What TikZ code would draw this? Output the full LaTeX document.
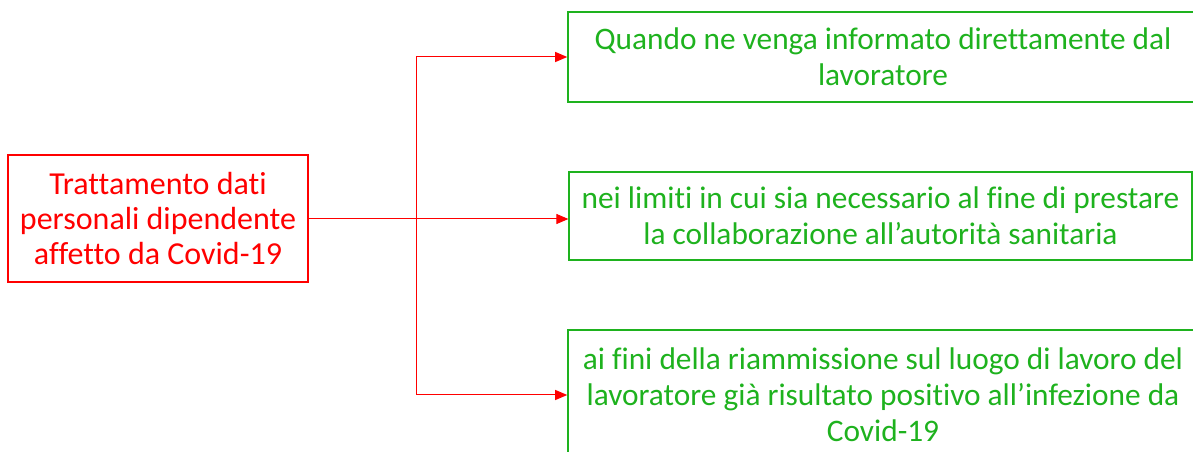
\documentclass[tikz,border=0pt]{standalone}
\usepackage{fontspec}
\setmainfont[Ligatures=NoCommon]{Carlito}
\usetikzlibrary{arrows.meta}
\definecolor{boxgreen}{RGB}{30,178,30}
\begin{document}
\begin{tikzpicture}[x=0.75pt,y=-0.75pt,
	root_node/.style={draw=red,text=red,line width=1.2pt,minimum width=225pt,minimum height=95pt,align=center,inner sep=0pt,font=\fontsize{24}{26}\selectfont},
	case_node/.style={draw=boxgreen,text=boxgreen,line width=1.2pt,align=center,inner sep=0pt},
	link/.style={draw=red,line width=0.75pt,-{Triangle[length=9pt,width=7.5pt]}}]
	\useasboundingbox (0,0) rectangle (1193,452);
	\clip (0,0) rectangle (1193,452);
	\fontsize{23.5}{27}\selectfont
	
	\node[root_node] (root) at (158,218.5) {Trattamento dati\\personali dipendente\\affetto da Covid-19};
	\node[case_node,minimum width=472.5pt,minimum height=67.5pt] (info) at (883,57) {Quando ne venga informato direttamente dal\\lavoratore};
	\node[case_node,minimum width=467pt,minimum height=66pt] (limit) at (880.5,216) {nei limiti in cui sia necessario al fine di prestare\\la collaborazione all’autorità sanitaria};
	\node[case_node,minimum width=472.5pt,minimum height=135pt] (back) at (883,420) {};
	\node[text=boxgreen,align=center,inner sep=0pt] (backtext) at (883,395) {ai fini della riammissione sul luogo di lavoro del\\lavoratore già risultato positivo all’infezione da\\Covid-19};
	
	\coordinate (split) at (416,219);
	\draw[red,line width=0.75pt] (root.east |- split) -- (split);
	\draw[link] (split) |- (info.west);
	\draw[link] (split) -- (split -| limit.west);
	\draw[link] (split) |- (back.west |- backtext);
\end{tikzpicture}
\end{document}
